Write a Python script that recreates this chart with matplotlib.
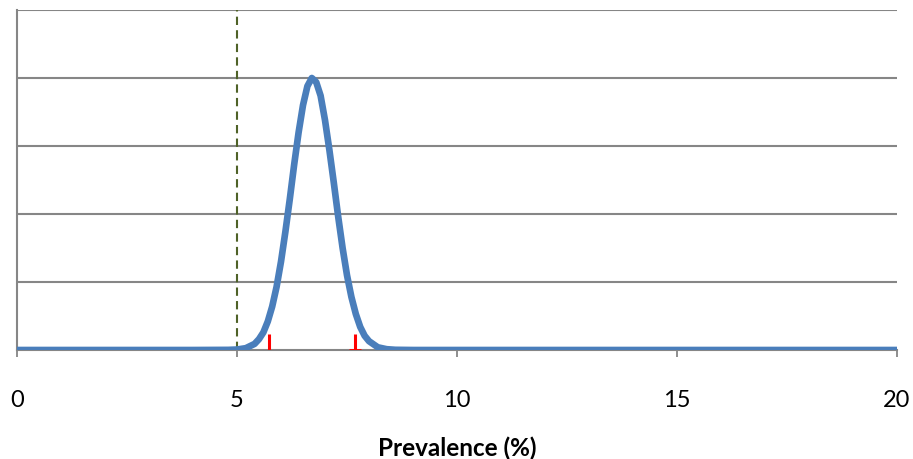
import matplotlib
matplotlib.use('Agg')
import matplotlib.pyplot as plt

# density curve (x = prevalence %, y = grid units)
prev_x = [0.0, 2.0, 4.0, 4.8, 5.0, 5.2, 5.4, 5.5, 5.6, 5.7, 5.8, 5.9, 6.0, 6.1,
          6.2, 6.3, 6.4, 6.5, 6.6, 6.7, 6.8, 6.9, 7.0, 7.1, 7.2, 7.3, 7.4,
          7.5, 7.6, 7.7, 7.8, 7.9, 8.0, 8.2, 8.4, 8.6, 9.0, 12.0, 16.0, 20.0]
density = [0.0, 0.0, 0.0, 0.002, 0.007, 0.027, 0.09, 0.16, 0.26, 0.42, 0.64,
           0.93, 1.30, 1.74, 2.22, 2.73, 3.20, 3.60, 3.88, 4.0, 3.94, 3.74,
           3.38, 2.94, 2.46, 1.96, 1.50, 1.10, 0.78, 0.53, 0.34, 0.21, 0.13,
           0.04, 0.012, 0.003, 0.0, 0.0, 0.0, 0.0]

threshold = 5.0
ci_low, ci_high = 5.73, 7.68
ci_mark_height = 0.24

x_ticks = [0, 5, 10, 15, 20]
grid_levels = [1, 2, 3, 4, 5]

plt.rcParams['font.family'] = ['Lato', 'DejaVu Sans']

fig = plt.figure(figsize=(9.13, 4.59), dpi=100)
ax = fig.add_axes([17 / 913, 109 / 459, 880 / 913, 340 / 459])

for g in grid_levels:
    ax.axhline(g, color='#868686', linewidth=1.5, zorder=1)

ax.axvline(threshold, color='#4f6228', linewidth=1.5, linestyle=(0, (4, 2.5)), zorder=2)

ax.plot(prev_x, density, color='#4a7ebb', linewidth=4.8, solid_capstyle='butt', zorder=4)

# confidence interval markers
ax.vlines([ci_low, ci_high], 0, ci_mark_height, color='red', linewidth=2.2, zorder=3)
ax.hlines(0, ci_high - 0.13, ci_high + 0.13, color='red', linewidth=2, zorder=3)

ax.set_xlim(0, 20)
ax.set_ylim(0, 5)
ax.set_xticks(x_ticks)
ax.set_xticklabels([str(t) for t in x_ticks])
ax.set_yticks([])
ax.tick_params(axis='x', direction='out', length=5, width=1.3, color='#868686',
               labelsize=17, pad=24)
for side in ['top', 'right']:
    ax.spines[side].set_visible(False)
for side in ['left', 'bottom']:
    ax.spines[side].set_color('#868686')
    ax.spines[side].set_linewidth(1.5)
ax.spines['bottom'].set_zorder(2)

ax.set_xlabel('Prevalence (%)', fontsize=17.5, fontweight='bold', labelpad=18)

fig.savefig('out.png', dpi=100)
